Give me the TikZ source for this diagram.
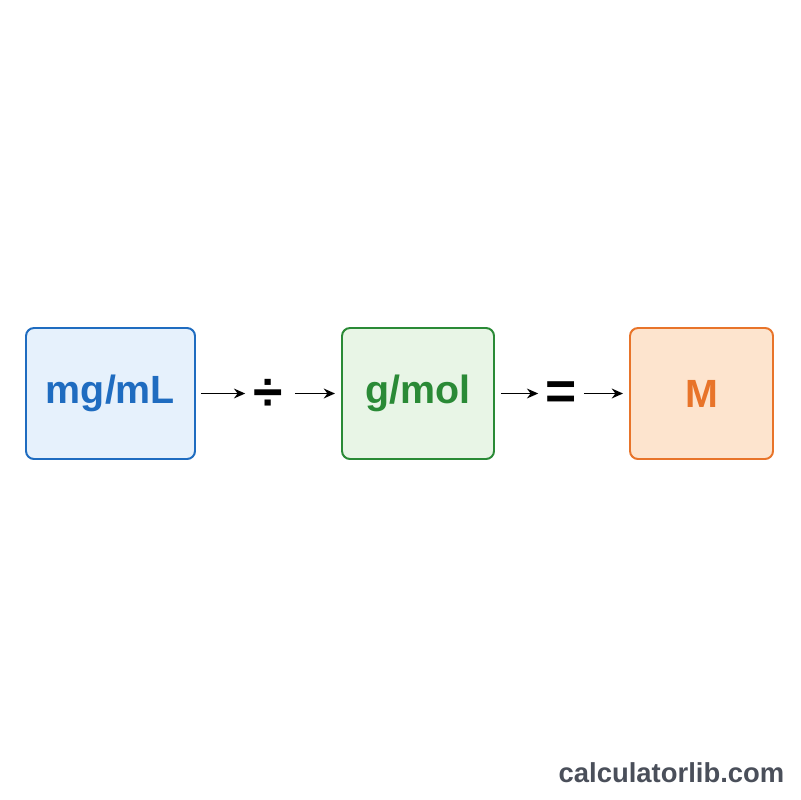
\documentclass[tikz,border=0pt]{standalone}
\usepackage{fontspec}
\setmainfont{Liberation Sans}
\usetikzlibrary{positioning,arrows.meta}
\definecolor{mgblue}{HTML}{1F6CC0}
\definecolor{mgfill}{HTML}{E6F1FC}
\definecolor{molgreen}{HTML}{2A8A36}
\definecolor{molfill}{HTML}{E8F5E6}
\definecolor{morange}{HTML}{E8742A}
\definecolor{mfill}{HTML}{FDE4CE}
\definecolor{markgray}{HTML}{4A4F5A}
\tikzset{x=0.025cm, y=-0.025cm, % one unit is one pixel of the 800 x 800 frame
unitbox/.style={draw, line width=1.4pt, rounded corners=0.2cm, minimum height=131*0.025cm, font=\bfseries\fontsize{28}{30}\selectfont}, % the three boxes
opsign/.style={inner sep=0pt, minimum width=45*0.025cm, font=\bfseries\fontsize{38}{38}\selectfont}, % the sign between the boxes
flow/.style={-{Stealth[length=8pt,width=7pt]}, line width=1.3pt}, % the arrows
}
\begin{document}
\begin{tikzpicture}
\useasboundingbox[fill=white] (0,0) rectangle (800,800);
\node[unitbox, draw=mgblue, fill=mgfill, text=mgblue, minimum width=169*0.025cm] (mgml) at (110.5,393.5) {mg/mL};
\node[opsign] (div) at (268,395) {÷};
\node[unitbox, draw=molgreen, fill=molfill, text=molgreen, minimum width=152*0.025cm] (gmol) at (418,393.5) {g/mol};
\node[opsign] (eq) at (561,396) {=};
\node[unitbox, draw=morange, fill=mfill, text=morange, minimum width=143*0.025cm] (molar) at (701.5,393.5) {M};
\node[text=markgray, font=\bfseries\fontsize{19.5}{22}\selectfont] (site) at (671.5,773) {calculatorlib.com};
\draw[flow, shorten <=0.12cm] (mgml.east) -- (div.west |- mgml.east);
\draw[flow, shorten <=0.1cm, shorten >=0.15cm] (div.east |- gmol.west) -- (gmol.west);
\draw[flow, shorten <=0.15cm] (gmol.east) -- (eq.west |- gmol.east);
\draw[flow, shorten >=0.15cm] (eq.east |- molar.west) -- (molar.west);
\end{tikzpicture}
\end{document}
